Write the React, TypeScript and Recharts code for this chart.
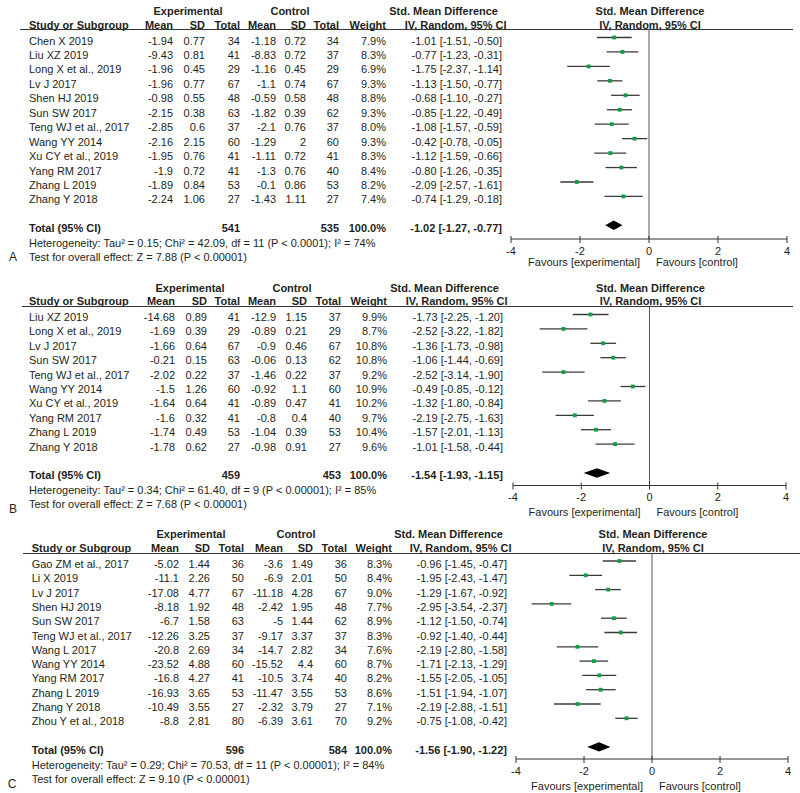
import React from 'react';
import { ScatterChart, Scatter, XAxis, YAxis, ErrorBar, ReferenceLine, ReferenceArea } from 'recharts';

const FONT = '"Liberation Sans", Arial, Helvetica, sans-serif';
const TEXT = '#231f20';
const GREEN = '#0f9d48';

// ---------- Panel A ----------
const studiesA = ['Chen X 2019', 'Liu XZ 2019', 'Long X et al., 2019', 'Lv J 2017', 'Shen HJ 2019', 'Sun SW 2017', 'Teng WJ et al., 2017', 'Wang YY 2014', 'Xu CY et al., 2019', 'Yang RM 2017', 'Zhang L 2019', 'Zhang Y 2018'];
const expMeanA = [-1.94, -9.43, -1.96, -1.96, -0.98, -2.15, -2.85, -2.16, -1.95, -1.9, -1.89, -2.24];
const expSdA = [0.77, 0.81, 0.45, 0.77, 0.55, 0.38, 0.6, 2.15, 0.76, 0.72, 0.84, 1.06];
const expNA = [34, 41, 29, 67, 48, 63, 37, 60, 41, 41, 53, 27];
const ctlMeanA = [-1.18, -8.83, -1.16, -1.1, -0.59, -1.82, -2.1, -1.29, -1.11, -1.3, -0.1, -1.43];
const ctlSdA = [0.72, 0.72, 0.45, 0.74, 0.58, 0.39, 0.76, 2, 0.72, 0.76, 0.86, 1.11];
const ctlNA = [34, 37, 29, 67, 48, 62, 37, 60, 41, 40, 53, 27];
const weightA = [7.9, 8.3, 6.9, 9.3, 8.8, 9.3, 8.0, 9.3, 8.3, 8.4, 8.2, 7.4];
const smdA = [-1.01, -0.77, -1.75, -1.13, -0.68, -0.85, -1.08, -0.42, -1.12, -0.80, -2.09, -0.74];
const loA = [-1.51, -1.23, -2.37, -1.50, -1.10, -1.22, -1.57, -0.78, -1.59, -1.26, -2.57, -1.29];
const hiA = [-0.50, -0.31, -1.14, -0.77, -0.27, -0.49, -0.59, -0.05, -0.66, -0.35, -1.61, -0.18];
const totalA = { nExp: 541, nCtl: 535, smd: -1.02, lo: -1.27, hi: -0.77 };
const hetA = 'Heterogeneity: Tau² = 0.15; Chi² = 42.09, df = 11 (P < 0.0001); I² = 74%';
const testA = 'Test for overall effect: Z = 7.88 (P < 0.00001)';

// ---------- Panel B ----------
const studiesB = ['Liu XZ 2019', 'Long X et al., 2019', 'Lv J 2017', 'Sun SW 2017', 'Teng WJ et al., 2017', 'Wang YY 2014', 'Xu CY et al., 2019', 'Yang RM 2017', 'Zhang L 2019', 'Zhang Y 2018'];
const expMeanB = [-14.68, -1.69, -1.66, -0.21, -2.02, -1.5, -1.64, -1.6, -1.74, -1.78];
const expSdB = [0.89, 0.39, 0.64, 0.15, 0.22, 1.26, 0.64, 0.32, 0.49, 0.62];
const expNB = [41, 29, 67, 63, 37, 60, 41, 41, 53, 27];
const ctlMeanB = [-12.9, -0.89, -0.9, -0.06, -1.46, -0.92, -0.89, -0.8, -1.04, -0.98];
const ctlSdB = [1.15, 0.21, 0.46, 0.13, 0.22, 1.1, 0.47, 0.4, 0.39, 0.91];
const ctlNB = [37, 29, 67, 62, 37, 60, 41, 40, 53, 27];
const weightB = [9.9, 8.7, 10.8, 10.8, 9.2, 10.9, 10.2, 9.7, 10.4, 9.6];
const smdB = [-1.73, -2.52, -1.36, -1.06, -2.52, -0.49, -1.32, -2.19, -1.57, -1.01];
const loB = [-2.25, -3.22, -1.73, -1.44, -3.14, -0.85, -1.80, -2.75, -2.01, -1.58];
const hiB = [-1.20, -1.82, -0.98, -0.69, -1.90, -0.12, -0.84, -1.63, -1.13, -0.44];
const totalB = { nExp: 459, nCtl: 453, smd: -1.54, lo: -1.93, hi: -1.15 };
const hetB = 'Heterogeneity: Tau² = 0.34; Chi² = 61.40, df = 9 (P < 0.00001); I² = 85%';
const testB = 'Test for overall effect: Z = 7.68 (P < 0.00001)';

// ---------- Panel C ----------
const studiesC = ['Gao ZM et al., 2017', 'Li X 2019', 'Lv J 2017', 'Shen HJ 2019', 'Sun SW 2017', 'Teng WJ et al., 2017', 'Wang L 2017', 'Wang YY 2014', 'Yang RM 2017', 'Zhang L 2019', 'Zhang Y 2018', 'Zhou Y et al., 2018'];
const expMeanC = [-5.02, -11.1, -17.08, -8.18, -6.7, -12.26, -20.8, -23.52, -16.8, -16.93, -10.49, -8.8];
const expSdC = [1.44, 2.26, 4.77, 1.92, 1.58, 3.25, 2.69, 4.88, 4.27, 3.65, 3.55, 2.81];
const expNC = [36, 50, 67, 48, 63, 37, 34, 60, 41, 53, 27, 80];
const ctlMeanC = [-3.6, -6.9, -11.18, -2.42, -5, -9.17, -14.7, -15.52, -10.5, -11.47, -2.32, -6.39];
const ctlSdC = [1.49, 2.01, 4.28, 1.95, 1.44, 3.37, 2.82, 4.4, 3.74, 3.55, 3.79, 3.61];
const ctlNC = [36, 50, 67, 48, 62, 37, 34, 60, 40, 53, 27, 70];
const weightC = [8.3, 8.4, 9.0, 7.7, 8.9, 8.3, 7.6, 8.7, 8.2, 8.6, 7.1, 9.2];
const smdC = [-0.96, -1.95, -1.29, -2.95, -1.12, -0.92, -2.19, -1.71, -1.55, -1.51, -2.19, -0.75];
const loC = [-1.45, -2.43, -1.67, -3.54, -1.50, -1.40, -2.80, -2.13, -2.05, -1.94, -2.88, -1.08];
const hiC = [-0.47, -1.47, -0.92, -2.37, -0.74, -0.44, -1.58, -1.29, -1.05, -1.07, -1.51, -0.42];
const totalC = { nExp: 596, nCtl: 584, smd: -1.56, lo: -1.90, hi: -1.22 };
const hetC = 'Heterogeneity: Tau² = 0.29; Chi² = 70.53, df = 11 (P < 0.00001); I² = 84%';
const testC = 'Test for overall effect: Z = 9.10 (P < 0.00001)';

const xTicks = [-4, -2, 0, 2, 4];

type Layout = {
  hdr1: number; hdr2: number; lineY: number; lineX1: number; lineX2: number;
  axisY: number; row0: number; step: number; xLeft: number; xRight: number;
  nameX: number; cols: number[]; ciR: number; expC: number; ctlC: number;
  favOff: number; letter: string; letterX: number; letterDy: number;
};

const layoutA: Layout = { hdr1: 10.5, hdr2: 25, lineY: 29, lineX1: 20, lineX2: 793, axisY: 239, row0: 37.5, step: 14.45, xLeft: 511, xRight: 787, nameX: 29, cols: [173, 205, 240, 276, 306, 339, 386], ciR: 502, expC: 188, ctlC: 290, favOff: 23, letter: 'A', letterX: 13, letterDy: 0 };
const layoutB: Layout = { hdr1: 287.7, hdr2: 301, lineY: 306.5, lineX1: 22, lineX2: 793, axisY: 485, row0: 314, step: 14.4, xLeft: 513, xRight: 786, nameX: 29, cols: [175, 207, 240, 276, 307, 341, 387], ciR: 503, expC: 190, ctlC: 292, favOff: 27, letter: 'B', letterX: 13, letterDy: 5 };
const layoutC: Layout = { hdr1: 534, hdr2: 548.3, lineY: 553, lineX1: 23, lineX2: 800, axisY: 759, row0: 561, step: 14.3, xLeft: 516, xRight: 788, nameX: 31.7, cols: [179, 210, 244, 283, 313, 347, 392], ciR: 507, expC: 191, ctlC: 296, favOff: 27, letter: 'C', letterX: 12, letterDy: 5 };

type Txt = { x: number; y: number; align?: 'left' | 'right' | 'center'; bold?: boolean; children: React.ReactNode };
const T = ({ x, y, align = 'left', bold, children }: Txt) => {
  const w = 400;
  const left = align === 'left' ? x : align === 'right' ? x - w : x - w / 2;
  return (
    <div style={{ position: 'absolute', left, top: y - 7, width: w, height: 14, lineHeight: '14px', fontSize: 11, fontFamily: FONT, color: TEXT, whiteSpace: 'nowrap', textAlign: align, fontWeight: bold ? 'bold' : 'normal' }}>
      {children}
    </div>
  );
};

const AxisTick = (props: any) => {
  const { x, y, payload } = props;
  return (
    <g>
      <line x1={x} x2={x} y1={y - 3} y2={y + 4} stroke="#333" strokeWidth={1} />
      <text x={x} y={y + 15.5} textAnchor="middle" fontSize={11} fontFamily={FONT} fill={TEXT}>{payload.value}</text>
    </g>
  );
};

const Square = (p: any) => <rect x={p.cx - 1.9} y={p.cy - 1.9} width={3.8} height={3.8} fill={GREEN} />;

const Diamond = (p: any) => {
  const { x, y, width, height } = p;
  const cx = x + width / 2;
  const cy = y + height / 2;
  return <polygon points={`${x},${cy} ${cx},${y} ${x + width},${cy} ${cx},${y + height}`} fill="#000" />;
};

const fmtCI = (v: number, l: number, h: number) => `${v.toFixed(2)} [${l.toFixed(2)}, ${h.toFixed(2)}]`;

type PanelProps = {
  L: Layout; studies: string[]; em: number[]; es: number[]; en: number[]; cm: number[]; cs: number[]; cn: number[];
  wt: number[]; smd: number[]; lo: number[]; hi: number[]; total: { nExp: number; nCtl: number; smd: number; lo: number; hi: number };
  het: string; test: string;
};

const Panel = ({ L, studies, em, es, en, cm, cs, cn, wt, smd, lo, hi, total, het, test }: PanelProps) => {
  const n = studies.length;
  const totIdx = n + 1;
  const plotH = L.axisY - L.lineY;
  const a = -(L.row0 - L.lineY) / L.step;
  const b = a + plotH / L.step;
  const rowY = (i: number) => L.row0 + i * L.step + 3;
  const rows = smd.map((v, i) => ({ x: v, y: i, err: [v - lo[i], hi[i] - v] }));
  const zeroPx = L.xLeft + (L.xRight - L.xLeft) / 2;
  const totY = rowY(totIdx);
  const c = L.cols;
  return (
    <>
      {/* headers */}
      <T x={L.expC} y={L.hdr1} align="center" bold>Experimental</T>
      <T x={L.ctlC} y={L.hdr1} align="center" bold>Control</T>
      <T x={L.ciR - 4} y={L.hdr1} align="right" bold>Std. Mean Difference</T>
      <T x={zeroPx + 1} y={L.hdr1} align="center" bold>Std. Mean Difference</T>
      <T x={L.nameX} y={L.hdr2} bold>Study or Subgroup</T>
      <T x={c[0]} y={L.hdr2} align="right" bold>Mean</T>
      <T x={c[1]} y={L.hdr2} align="right" bold>SD</T>
      <T x={c[2]} y={L.hdr2} align="right" bold>Total</T>
      <T x={c[3]} y={L.hdr2} align="right" bold>Mean</T>
      <T x={c[4]} y={L.hdr2} align="right" bold>SD</T>
      <T x={c[5]} y={L.hdr2} align="right" bold>Total</T>
      <T x={c[6]} y={L.hdr2} align="right" bold>Weight</T>
      <T x={L.ciR + 4.5} y={L.hdr2} align="right" bold>IV, Random, 95% CI</T>
      <T x={zeroPx + 1} y={L.hdr2} align="center" bold>IV, Random, 95% CI</T>
      <div style={{ position: 'absolute', left: L.lineX1, top: L.lineY - 0.5, width: L.lineX2 - L.lineX1, height: 0, borderTop: '1px solid #333' }} />
      {/* rows */}
      {studies.map((s, i) => (
        <React.Fragment key={s + i}>
          <T x={L.nameX} y={rowY(i)}>{s}</T>
          <T x={c[0]} y={rowY(i)} align="right">{String(em[i])}</T>
          <T x={c[1]} y={rowY(i)} align="right">{String(es[i])}</T>
          <T x={c[2]} y={rowY(i)} align="right">{String(en[i])}</T>
          <T x={c[3]} y={rowY(i)} align="right">{String(cm[i])}</T>
          <T x={c[4]} y={rowY(i)} align="right">{String(cs[i])}</T>
          <T x={c[5]} y={rowY(i)} align="right">{String(cn[i])}</T>
          <T x={c[6]} y={rowY(i)} align="right">{wt[i].toFixed(1)}%</T>
          <T x={L.ciR} y={rowY(i)} align="right">{fmtCI(smd[i], lo[i], hi[i])}</T>
        </React.Fragment>
      ))}
      <T x={L.nameX} y={totY} bold>Total (95% CI)</T>
      <T x={c[2]} y={totY} align="right" bold>{String(total.nExp)}</T>
      <T x={c[5]} y={totY} align="right" bold>{String(total.nCtl)}</T>
      <T x={c[6]} y={totY} align="right" bold>100.0%</T>
      <T x={L.ciR} y={totY} align="right" bold>{fmtCI(total.smd, total.lo, total.hi)}</T>
      <T x={L.nameX} y={totY + 15}>{het}</T>
      <T x={L.nameX} y={totY + 29}>{test}</T>
      <div style={{ position: 'absolute', left: L.letterX - 10, top: totY + 29 + L.letterDy - 7, width: 20, height: 14, lineHeight: '14px', textAlign: 'center', fontSize: 12, fontFamily: FONT, color: TEXT }}>{L.letter}</div>
      <T x={zeroPx - 9} y={L.axisY + L.favOff} align="right">Favours [experimental]</T>
      <T x={zeroPx + 7} y={L.axisY + L.favOff}>Favours [control]</T>
      {/* forest plot */}
      <div style={{ position: 'absolute', left: 0, top: L.lineY, width: 800, height: plotH + 24 }}>
        <ScatterChart width={800} height={plotH + 24} margin={{ top: 0, right: 800 - L.xRight, bottom: 0, left: L.xLeft }}>
          <XAxis type="number" dataKey="x" domain={[-4, 4]} ticks={xTicks} interval={0} allowDataOverflow tickSize={0} tickMargin={0} tickLine={false} tick={<AxisTick />} axisLine={{ stroke: '#333', strokeWidth: 1 }} height={24} />
          <YAxis type="number" dataKey="y" domain={[a, b]} reversed hide width={0} allowDataOverflow />
          <ReferenceLine x={0} stroke="#555" strokeWidth={1} ifOverflow="visible" />
          <ReferenceArea x1={total.lo} x2={total.hi} y1={totIdx - 0.33} y2={totIdx + 0.33} ifOverflow="visible" shape={Diamond} />
          <Scatter data={rows} shape={Square} isAnimationActive={false}>
            <ErrorBar dataKey="err" direction="x" width={0} stroke="#3a3a3a" strokeWidth={1.3} isAnimationActive={false} />
          </Scatter>
        </ScatterChart>
      </div>
    </>
  );
};

export default function App() {
  return (
    <div style={{ position: 'absolute', left: 0, top: 0, width: 800, height: 793, background: '#fff', overflow: 'hidden' }}>
      <Panel L={layoutA} studies={studiesA} em={expMeanA} es={expSdA} en={expNA} cm={ctlMeanA} cs={ctlSdA} cn={ctlNA} wt={weightA} smd={smdA} lo={loA} hi={hiA} total={totalA} het={hetA} test={testA} />
      <Panel L={layoutB} studies={studiesB} em={expMeanB} es={expSdB} en={expNB} cm={ctlMeanB} cs={ctlSdB} cn={ctlNB} wt={weightB} smd={smdB} lo={loB} hi={hiB} total={totalB} het={hetB} test={testB} />
      <Panel L={layoutC} studies={studiesC} em={expMeanC} es={expSdC} en={expNC} cm={ctlMeanC} cs={ctlSdC} cn={ctlNC} wt={weightC} smd={smdC} lo={loC} hi={hiC} total={totalC} het={hetC} test={testC} />
    </div>
  );
}
